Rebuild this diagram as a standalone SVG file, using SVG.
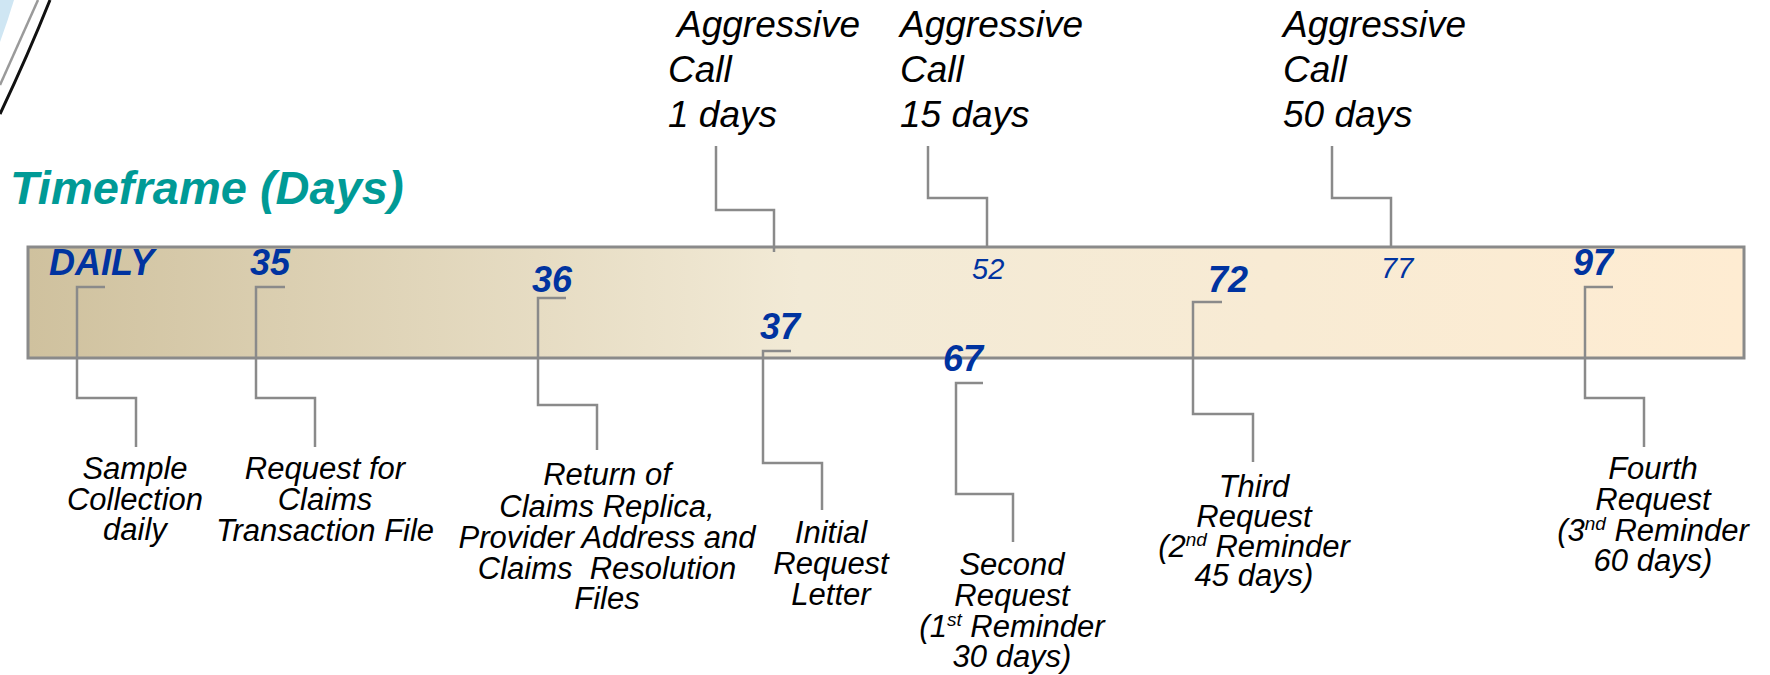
<svg xmlns="http://www.w3.org/2000/svg" width="1770" height="675" viewBox="0 0 1770 675">
<defs>
<linearGradient id="bar" x1="0" y1="0" x2="1" y2="0">
<stop offset="0" stop-color="#cfc19e"/>
<stop offset="0.45" stop-color="#f2ead6"/>
<stop offset="1" stop-color="#feecd2"/>
</linearGradient>
<style>
.lbl{font-family:"Liberation Sans",Arial,sans-serif;font-style:italic;font-size:31px;fill:#000;text-anchor:middle}
.top{font-family:"Liberation Sans",Arial,sans-serif;font-style:italic;font-size:37px;fill:#000}
.num{font-family:"Liberation Sans",Arial,sans-serif;font-style:italic;font-weight:bold;font-size:36px;fill:#0033a0}
.num2{font-family:"Liberation Sans",Arial,sans-serif;font-style:italic;font-size:29px;fill:#0033a0}
.title{font-family:"Liberation Sans",Arial,sans-serif;font-style:italic;font-weight:bold;font-size:47px;fill:#009a96}
.sup{font-size:19px}
.conn{fill:none;stroke:#8a8a8a;stroke-width:2.5}
</style>
</defs>
<rect width="1770" height="675" fill="#fff"/>
<g id="decor">
<path d="M0,0 L14,0 Q8,20 0,42 Z" fill="#cfe6f3"/>
<path d="M38,0 Q20,40 0,85" fill="none" stroke="#9a9a9a" stroke-width="2.5"/>
<path d="M50,0 Q28,55 0,114" fill="none" stroke="#111" stroke-width="3"/>
</g>
<text class="title" x="10" y="204">Timeframe (Days)</text>
<g id="bar-node">
<rect x="28" y="247" width="1716" height="111" fill="url(#bar)" stroke="#8a8a8a" stroke-width="3"/>
</g>
<g id="connectors">
<path class="conn" d="M105,287 H77 V398 H136 V447"/>
<path class="conn" d="M285,287 H256 V398 H315 V447"/>
<path class="conn" d="M566,298 H538 V405 H597 V450"/>
<path class="conn" d="M791,351 H763 V463 H822 V510"/>
<path class="conn" d="M983,383 H956 V494 H1013 V542"/>
<path class="conn" d="M1222,302 H1193 V414 H1253 V462"/>
<path class="conn" d="M1613,287 H1585 V398 H1644 V447"/>
<path class="conn" d="M716,146 V210 H774 V252"/>
<path class="conn" d="M928,146 V198 H987 V247"/>
<path class="conn" d="M1332,146 V198 H1391 V247"/>
</g>
<g id="n-daily">
<text class="num" x="49" y="275">DAILY</text>
<text class="lbl" x="135" y="479">Sample</text>
<text class="lbl" x="135" y="510">Collection</text>
<text class="lbl" x="135" y="540">daily</text>
</g>
<g id="n-35">
<text class="num" x="250" y="275">35</text>
<text class="lbl" x="325" y="479">Request for</text>
<text class="lbl" x="325" y="510">Claims</text>
<text class="lbl" x="325" y="541">Transaction File</text>
</g>
<g id="n-36">
<text class="num" x="532" y="292">36</text>
<text class="lbl" x="607" y="485">Return of</text>
<text class="lbl" x="607" y="517">Claims Replica,</text>
<text class="lbl" x="607" y="548">Provider Address and</text>
<text class="lbl" x="607" y="579">Claims&#160; Resolution</text>
<text class="lbl" x="607" y="609">Files</text>
</g>
<g id="n-37">
<text class="num" x="760" y="339">37</text>
<text class="lbl" x="831" y="543">Initial</text>
<text class="lbl" x="831" y="574">Request</text>
<text class="lbl" x="831" y="605">Letter</text>
</g>
<g id="n-67">
<text class="num" x="943" y="371">67</text>
<text class="lbl" x="1012" y="575">Second</text>
<text class="lbl" x="1012" y="606">Request</text>
<text class="lbl" x="1012" y="637">(1<tspan class="sup" dy="-11">st</tspan><tspan dy="11"> Reminder</tspan></text>
<text class="lbl" x="1012" y="667">30 days)</text>
</g>
<g id="n-72">
<text class="num" x="1208" y="292">72</text>
<text class="lbl" x="1254" y="497">Third</text>
<text class="lbl" x="1254" y="527">Request</text>
<text class="lbl" x="1254" y="557">(2<tspan class="sup" dy="-11">nd</tspan><tspan dy="11"> Reminder</tspan></text>
<text class="lbl" x="1254" y="586">45 days)</text>
</g>
<g id="n-97">
<text class="num" x="1573" y="275">97</text>
<text class="lbl" x="1653" y="479">Fourth</text>
<text class="lbl" x="1653" y="510">Request</text>
<text class="lbl" x="1653" y="541">(3<tspan class="sup" dy="-11">nd</tspan><tspan dy="11"> Reminder</tspan></text>
<text class="lbl" x="1653" y="571">60 days)</text>
</g>
<g id="n-call1">
<text class="top" x="677" y="37">Aggressive</text>
<text class="top" x="668" y="82">Call</text>
<text class="top" x="668" y="127">1 days</text>
</g>
<g id="n-52">
<text class="num2" x="972" y="279">52</text>
<text class="top" x="900" y="37">Aggressive</text>
<text class="top" x="900" y="82">Call</text>
<text class="top" x="900" y="127">15 days</text>
</g>
<g id="n-77">
<text class="num2" x="1381" y="278">77</text>
<text class="top" x="1283" y="37">Aggressive</text>
<text class="top" x="1283" y="82">Call</text>
<text class="top" x="1283" y="127">50 days</text>
</g>
</svg>
